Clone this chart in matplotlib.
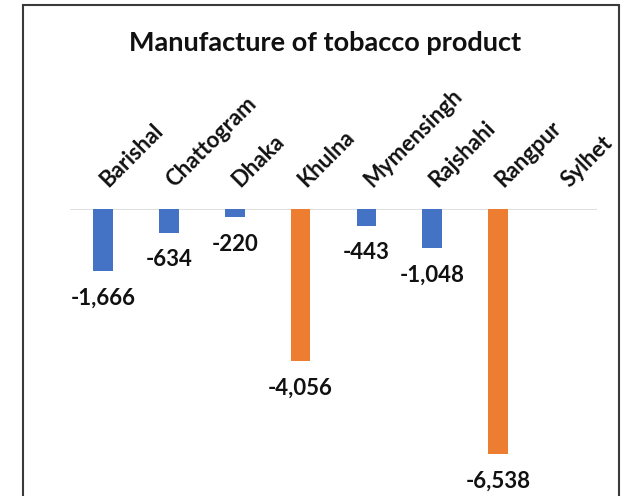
import matplotlib
matplotlib.use("Agg")
import matplotlib.pyplot as plt
import matplotlib.patches
import matplotlib.transforms

# data
regions = ["Barishal", "Chattogram", "Dhaka", "Khulna", "Mymensingh", "Rajshahi", "Rangpur", "Sylhet"]
values = [-1666, -634, -220, -4056, -443, -1048, -6538, 0]
highlight = [False, False, False, True, False, False, True, False]

color_normal = "#4472C4"
color_highlight = "#ED7D31"

plt.rcParams['font.family'] = ['Lato', 'DejaVu Sans']

figure = plt.figure(figsize=(6.25, 4.96), dpi=100)
W, H = 625.0, 496.0

# outer frame of the chart, runs off the bottom of the picture
frame = matplotlib.patches.Rectangle((23 / W, -0.1), (619 - 23) / W, (H - 5) / H + 0.1,
                                     transform=figure.transFigure, fill=False,
                                     edgecolor="#3a3a3a", linewidth=1.5, clip_on=False)
figure.patches.append(frame)

axis_system = figure.add_axes([70 / W, 0.0, (597 - 70) / W, (H - 209) / H])
axis_system.set_xlim(-0.5, len(regions) - 0.5)
axis_system.set_ylim(-7660, 0)

bar_colors = [color_highlight if h else color_normal for h in highlight]
positions = list(range(len(regions)))
axis_system.bar(positions, values, width=0.3, color=bar_colors, zorder=2)

axis_system.axhline(0, color="#d9d9d9", linewidth=1.2, zorder=1)

for x, v in zip(positions, values):
    if v == 0:
        continue
    axis_system.annotate(f"{v:,}", xy=(x, v), xytext=(0, -12), textcoords="offset points",
                         ha="center", va="top", fontsize=16, fontweight="bold", color="#111111")

for side in ["top", "bottom", "left", "right"]:
    axis_system.spines[side].set_visible(False)
axis_system.set_yticks([])
axis_system.xaxis.tick_top()
axis_system.set_xticks(positions)
axis_system.set_xticklabels(regions, rotation=45, ha="left", va="baseline",
                            rotation_mode="anchor", fontsize=16, fontweight="bold", color="#111111")
axis_system.tick_params(axis="x", length=0, pad=15)

# nudge the rotated labels a little to the right, like the reference
shift = matplotlib.transforms.ScaledTranslation(4 / 72, 0, figure.dpi_scale_trans)
for label in axis_system.get_xticklabels():
    label.set_transform(label.get_transform() + shift)

figure.text(325 / W, 1 - 43 / H, "Manufacture of tobacco product", ha="center", va="center",
            fontsize=19.5, fontweight="bold", color="#111111")

figure.savefig("out.png", dpi=100)
